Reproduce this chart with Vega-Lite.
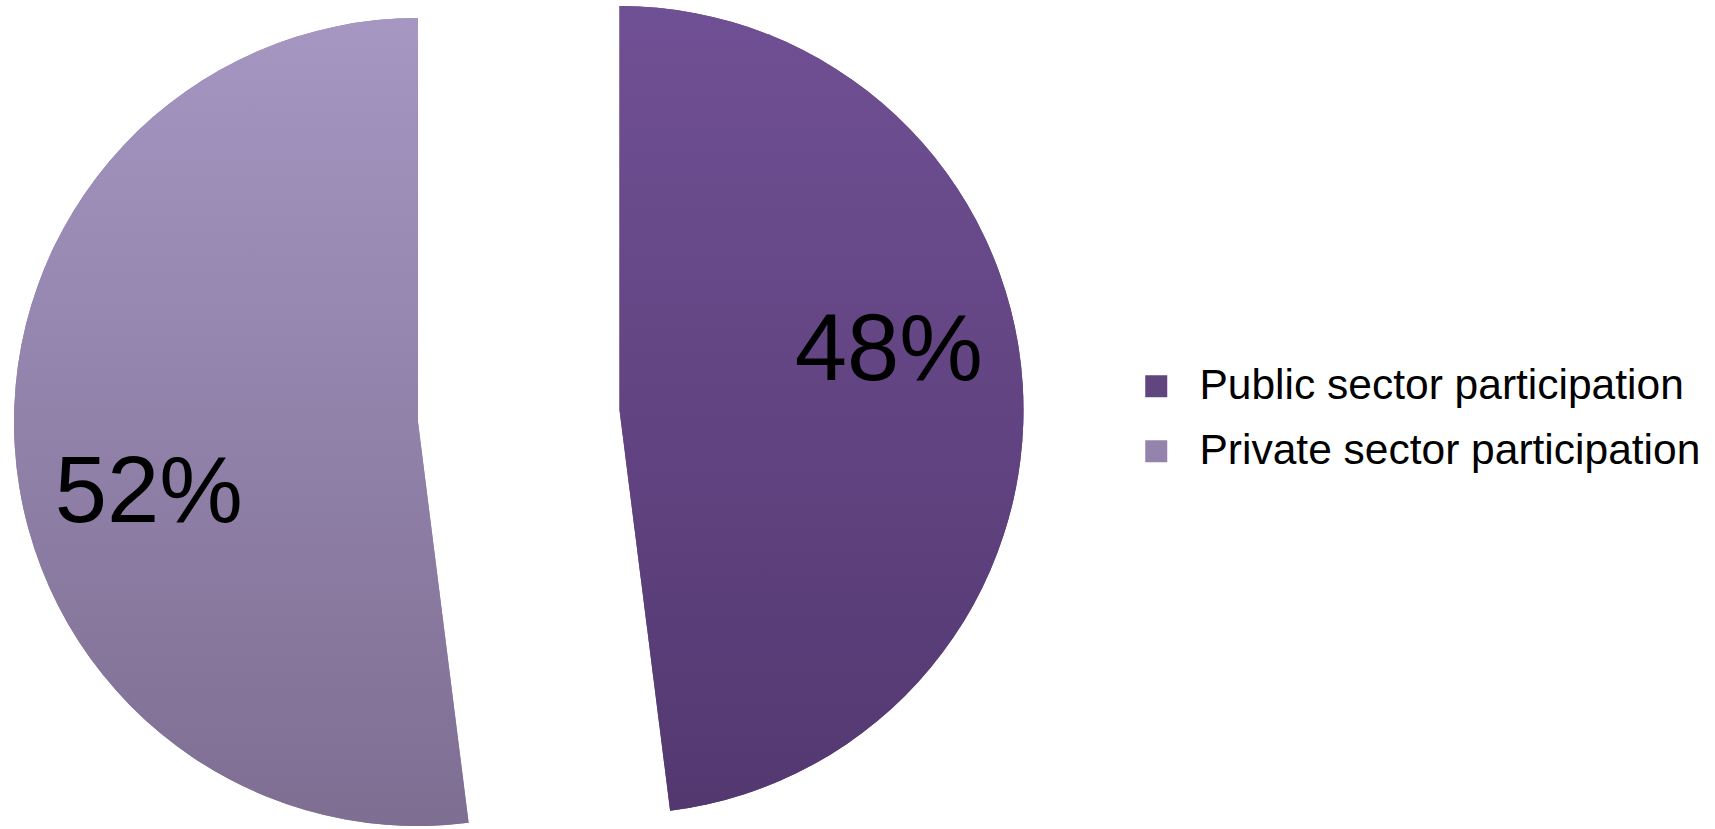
{
  "$schema": "https://vega.github.io/schema/vega-lite/v6.json",
  "width": 1715,
  "height": 829,
  "autosize": {"type": "fit", "contains": "padding"},
  "padding": 0,
  "background": "white",
  "config": {"view": {"stroke": null}},
  "data": {
    "values": [
      {"sector": "Public sector participation", "share": 48, "label": "48%"},
      {"sector": "Private sector participation", "share": 52, "label": "52%"}
    ]
  },
  "encoding": {
    "theta": {"field": "share", "type": "quantitative", "stack": true},
    "order": {"field": "share", "type": "quantitative", "sort": "ascending"},
    "x": {
      "field": "sector",
      "type": "nominal",
      "scale": {"type": "point", "domain": ["Public sector participation", "Private sector participation"], "range": [619.5, 418], "padding": 0},
      "axis": null
    },
    "y": {
      "field": "sector",
      "type": "nominal",
      "scale": {"type": "point", "domain": ["Public sector participation", "Private sector participation"], "range": [410, 422], "padding": 0},
      "axis": null
    }
  },
  "layer": [
    {
      "mark": {"type": "arc", "outerRadius": 404},
      "encoding": {
        "color": {
          "field": "sector",
          "type": "nominal",
          "scale": {"domain": ["Public sector participation", "Private sector participation"], "range": ["#60457f", "#9484ab"]},
          "legend": {
            "orient": "none",
            "legendX": 1135,
            "legendY": 365,
            "title": null,
            "padding": 0,
            "symbolType": "square",
            "symbolSize": 484,
            "symbolStrokeWidth": 0,
            "labelFont": "Liberation Sans",
            "labelFontSize": 42.5,
            "labelColor": "black",
            "labelOffset": 22,
            "labelLimit": 800,
            "rowPadding": 22
          }
        }
      }
    },
    {
      "mark": {"type": "arc", "outerRadius": 404},
      "encoding": {
        "detail": {"field": "sector", "type": "nominal"},
        "fill": {
          "condition": {
            "test": "datum.sector === 'Public sector participation'",
            "value": {"gradient": "linear", "x1": 0, "y1": 0, "x2": 0, "y2": 1, "stops": [{"offset": 0, "color": "#705094"}, {"offset": 1, "color": "#533870"}]}
          },
          "value": {"gradient": "linear", "x1": 0, "y1": 0, "x2": 0, "y2": 1, "stops": [{"offset": 0, "color": "#a596c2"}, {"offset": 1, "color": "#7e6e92"}]}
        }
      }
    },
    {
      "mark": {
        "type": "text",
        "radius": 277,
        "thetaOffset": -0.175,
        "dy": 7,
        "font": "Liberation Sans",
        "fontSize": 94,
        "color": "black",
        "align": "center",
        "baseline": "middle"
      },
      "encoding": {
        "detail": {"field": "sector", "type": "nominal"},
        "text": {"field": "label", "type": "nominal"}
      }
    }
  ]
}
